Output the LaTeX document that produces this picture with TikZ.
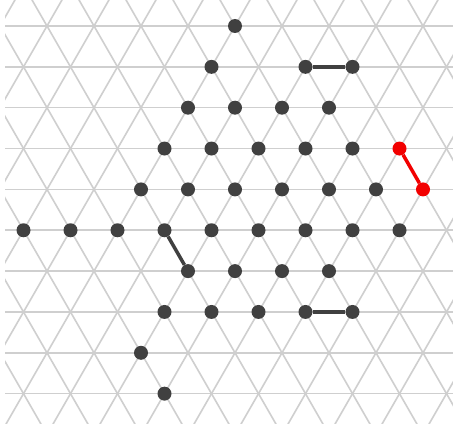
\documentclass[tikz,border=0pt]{standalone}
\usepackage{xcolor}
\usepackage{tikz}
\definecolor{latgray}{HTML}{CFCFCF}
\definecolor{dotgray}{HTML}{404040}
\definecolor{hotred}{HTML}{F20000}

\begin{document}
\begin{tikzpicture}[x=47pt, y=-40.85pt,
    latline/.style={latgray, line width=1.6pt},
    site/.style={circle, fill=dotgray, inner sep=0pt, minimum size=14pt},
    hotsite/.style={site, fill=hotred},
    bond/.style={dotgray, line width=3.5pt},
    hotbond/.style={hotred, line width=3.5pt},
]
\fill[white] (0,-0.6365) rectangle (9.6383,9.7674);
\begin{scope}
\clip (0.1064,-0.6365) rectangle (9.6383,9.72);
\foreach \r in {0,...,9} \draw[latline] (-1,\r) -- (11,\r);
\foreach \k in {-6,...,16} {
  \draw[latline] (\k+0.5,-1) -- (\k-5.5,11);
  \draw[latline] (\k-0.5,-1) -- (\k+5.5,11);
}
\end{scope}
% occupied sites, row/doubled column
\foreach \r/\c in {0/10, 1/9, 1/13, 1/15, 2/8, 2/10, 2/12, 2/14,
    3/7, 3/9, 3/11, 3/13, 3/15, 4/6, 4/8, 4/10, 4/12, 4/14, 4/16,
    5/1, 5/3, 5/5, 5/7, 5/9, 5/11, 5/13, 5/15, 5/17,
    6/8, 6/10, 6/12, 6/14, 7/7, 7/9, 7/11, 7/13, 7/15, 8/6, 9/7}
  \node[site] (n\r-\c) at (\c/2,\r) {};
\node[hotsite] (n3-17) at (8.5,3) {};
\node[hotsite] (n4-18) at (9,4) {};
\draw[bond] (n1-13) -- (n1-15);
\draw[bond] (n5-7) -- (n6-8);
\draw[bond] (n7-13) -- (n7-15);
\draw[hotbond] (n3-17) -- (n4-18);
\end{tikzpicture}
\end{document}
